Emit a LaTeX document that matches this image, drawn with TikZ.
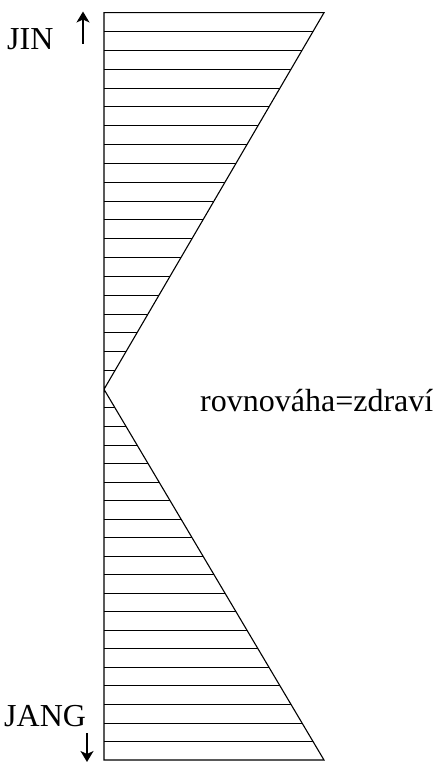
\documentclass[tikz,border=0pt]{standalone}
\usepackage{fontspec}
\setmainfont{Liberation Serif}
\usetikzlibrary{calc,arrows.meta}

\begin{document}
\begin{tikzpicture}[x=1pt,y=1pt,
    outline/.style={line width=1.1pt},
    hatch/.style={line width=0.8pt},
    label/.style={font=\fontsize{32}{38}\selectfont, inner sep=0pt, anchor=base west},
    pointer/.style={line width=1.4pt, -{Stealth[length=11pt,width=13pt,inset=3pt]}}
]
\useasboundingbox (0,0) rectangle (436,-762);

\coordinate (tl) at (104,-12.7);
\coordinate (tr) at (324,-12.7);
\coordinate (apex) at (104,-389.3);
\coordinate (bl) at (104,-760);
\coordinate (br) at (324,-760);

% hatching of both triangles
\foreach \i in {1,...,19} {
  \draw[hatch] ($(apex)!\i/20!(tl)$) -- ($(apex)!\i/20!(tr)$);
  \draw[hatch] ($(apex)!\i/20!(bl)$) -- ($(apex)!\i/20!(br)$);
}
\draw[outline] (tl) -- (tr) -- (apex) -- (br) -- (bl) -- cycle;

\node[label] (jin) at (7,-50) {JIN};
\node[label] (jang) at (4,-726) {JANG};
\node[label] (balance) at (200,-411) {rovnováha=zdraví};

\coordinate (jinfrom) at (83,-44);
\coordinate (jinto) at (83,-11.5);
\coordinate (jangfrom) at (87,-733);
\coordinate (jangto) at (87,-762);
\draw[pointer] (jinfrom) -- (jinto);
\draw[pointer] (jangfrom) -- (jangto);

\end{tikzpicture}
\end{document}
